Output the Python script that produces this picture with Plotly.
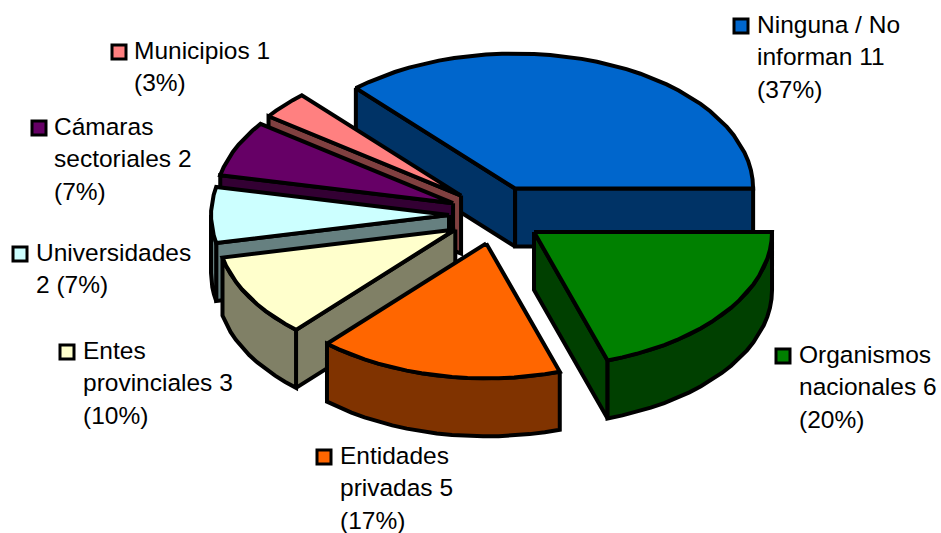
import math
import plotly.graph_objects as go

names = ["Ninguna / No<br>informan 11<br>(37%)", "Organismos<br>nacionales 6<br>(20%)", "Entidades<br>privadas 5<br>(17%)",
         "Entes<br>provinciales 3<br>(10%)", "Universidades<br>2 (7%)", "Cámaras<br>sectoriales 2<br>(7%)", "Municipios 1<br>(3%)"]
values = [11, 6, 5, 3, 2, 2, 1]
top_colors = ["#0066CC", "#008000", "#FF6600", "#FFFFCC", "#CCFFFF", "#660066", "#FF8080"]
wall_colors = ["#003366", "#004000", "#803300", "#808066", "#668080", "#330033", "#804040"]
draw_order = [0, 6, 5, 4, 3, 1, 2]

START = -42.0
CX, CY, RX, RY = 496, 215, 238, 135
EX, EY, DEPTH = 47, 29, 58
LINE = 4
KEY_XY = [(741, 26), (783, 356), (324, 457), (67, 352), (20, 254), (39, 128), (119, 52)]
TEXT_XY = [(756, 9.5), (798, 339.5), (339, 440.5), (82, 335.5), (35, 237.5), (53, 111.5), (133, 35.5)]
LINE_H = 32.5

total = sum(values)
angles = []
a = START
for v in values:
    angles.append((a, a + v / total * 360))
    a += v / total * 360

def pt(theta, ox, oy, dz=0):
    t = math.radians(theta)
    return ox + RX * math.sin(t), oy - RY * math.cos(t) + dz

def arc(a0, a1, ox, oy, dz=0):
    n = max(2, int(abs(a1 - a0) / 4) + 1)
    return [pt(a0 + (a1 - a0) * i / n, ox, oy, dz) for i in range(n + 1)]

fig = go.Figure()

def poly(points, color):
    xs = [p[0] for p in points] + [points[0][0]]
    ys = [p[1] for p in points] + [points[0][1]]
    fig.add_trace(go.Scatter(x=xs, y=ys, mode="lines", fill="toself", fillcolor=color,
                             line=dict(color="black", width=LINE), hoverinfo="skip", showlegend=False))

for i in draw_order:
    a0, a1 = angles[i]
    mid = math.radians((a0 + a1) / 2)
    ox = CX + EX * math.sin(mid)
    oy = CY - EY * math.cos(mid)
    apex = (ox, oy)
    apex_d = (ox, oy + DEPTH)
    if math.cos(math.radians(a0 - 90)) < 0:
        p = pt(a0, ox, oy)
        poly([apex, p, (p[0], p[1] + DEPTH), apex_d], wall_colors[i])
    if math.cos(math.radians(a1 + 90)) < 0:
        p = pt(a1, ox, oy)
        poly([apex, p, (p[0], p[1] + DEPTH), apex_d], wall_colors[i])
    r0, r1 = max(a0, 90), min(a1, 270)
    if r1 > r0:
        poly(arc(r0, r1, ox, oy) + arc(r1, r0, ox, oy, DEPTH), wall_colors[i])
    poly([apex] + arc(a0, a1, ox, oy), top_colors[i])

for i, n in enumerate(names):
    fig.add_trace(go.Scatter(x=[KEY_XY[i][0]], y=[KEY_XY[i][1]], mode="markers",
                             marker=dict(symbol="square", size=14, color=top_colors[i], line=dict(color="black", width=3)),
                             hoverinfo="skip", showlegend=False))
    for j, part in enumerate(n.split("<br>")):
        fig.add_annotation(x=TEXT_XY[i][0], y=TEXT_XY[i][1] + j * LINE_H, text=part, showarrow=False,
                           xanchor="left", yanchor="top", align="left", borderpad=0,
                           font=dict(family="Liberation Sans", size=24.5, color="black"))

fig.update_layout(width=941, height=533, margin=dict(l=0, r=0, t=0, b=0), paper_bgcolor="white", plot_bgcolor="white",
                  xaxis=dict(range=[0, 941], visible=False, fixedrange=True),
                  yaxis=dict(range=[533, 0], visible=False, fixedrange=True))
fig.write_html("out.html", config=dict(displayModeBar=False),
               post_script="document.documentElement.style.overflow='hidden';document.body.style.margin='0';")
